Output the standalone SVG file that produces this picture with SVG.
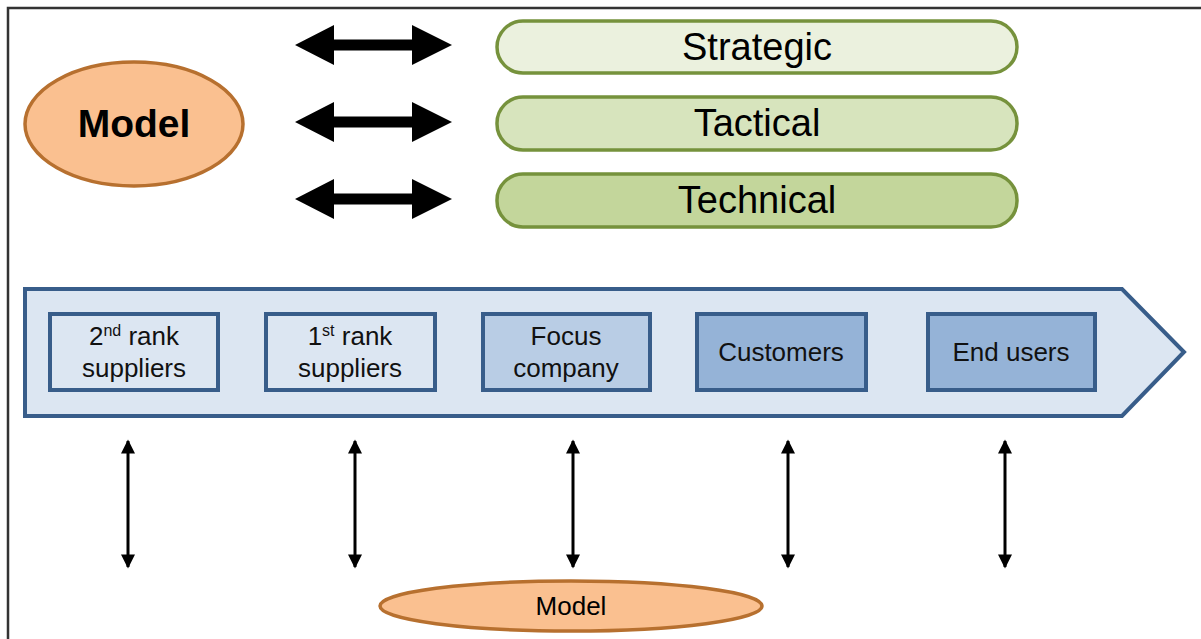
<svg xmlns="http://www.w3.org/2000/svg" width="1201" height="639" viewBox="0 0 1201 639">
<defs>
<style>
text{font-family:"Liberation Sans",Arial,sans-serif;fill:#000;text-anchor:middle}
.pill{stroke:#76923C;stroke-width:3.5}
.box{stroke:#385D8A;stroke-width:4}
.lvl{font-size:38px}
.bx{font-size:26px;fill:#111}
.sup{font-size:16px}
.model{fill:#FAC090;stroke:#B7702F;stroke-width:3.5}
.big{fill:#000}
.va{stroke:#000;stroke-width:3;fill:none;marker-start:url(#ah);marker-end:url(#ah)}
</style>
<marker id="ah" viewBox="0 0 10 10" refX="9" refY="5" markerWidth="17" markerHeight="14" markerUnits="userSpaceOnUse" orient="auto-start-reverse">
<path d="M0,0 L10,5 L0,10 Z" fill="#000"/>
</marker>
</defs>
<rect width="1201" height="639" fill="#fff"/>
<path d="M8,639 V8 H1201" fill="none" stroke="#333" stroke-width="2.5"/>

<g id="model-top">
<ellipse class="model" cx="134" cy="124" rx="109" ry="62"/>
<text x="134" y="137" style="font-size:39px;font-weight:bold">Model</text>
</g>

<g id="strategic">
<rect class="pill" x="497" y="21" width="520" height="52" rx="26" fill="#EBF1DE"/>
<text class="lvl" x="757" y="60">Strategic</text>
</g>
<g id="tactical">
<rect class="pill" x="497" y="97" width="520" height="53" rx="26" fill="#D7E4BD"/>
<text class="lvl" x="757" y="136">Tactical</text>
</g>
<g id="technical">
<rect class="pill" x="497" y="174" width="520" height="53" rx="26" fill="#C3D69B"/>
<text class="lvl" x="757" y="213">Technical</text>
</g>

<g id="chain">
<path d="M25,289 H1122 L1184,352 L1122,416 H25 Z" fill="#DCE6F2" stroke="#385D8A" stroke-width="4"/>
</g>
<g id="second-rank">
<rect class="box" x="50" y="314" width="168" height="76" fill="#DCE6F2"/>
<text class="bx" x="134" y="345">2<tspan class="sup" dy="-9">nd</tspan><tspan dy="9"> rank</tspan></text>
<text class="bx" x="134" y="377">suppliers</text>
</g>
<g id="first-rank">
<rect class="box" x="266" y="314" width="169" height="76" fill="#DCE6F2"/>
<text class="bx" x="350" y="345">1<tspan class="sup" dy="-9">st</tspan><tspan dy="9"> rank</tspan></text>
<text class="bx" x="350" y="377">suppliers</text>
</g>
<g id="focus">
<rect class="box" x="483" y="314" width="167" height="76" fill="#B9CDE5"/>
<text class="bx" x="566" y="345">Focus</text>
<text class="bx" x="566" y="377">company</text>
</g>
<g id="customers">
<rect class="box" x="697" y="314" width="169" height="76" fill="#95B3D7"/>
<text class="bx" x="781" y="361">Customers</text>
</g>
<g id="end-users">
<rect class="box" x="928" y="314" width="167" height="76" fill="#95B3D7"/>
<text class="bx" x="1011" y="361">End users</text>
</g>

<g id="model-bottom">
<ellipse class="model" cx="571" cy="606" rx="191" ry="25"/>
<text x="571" y="615" style="font-size:26px">Model</text>
</g>

<g id="connectors">
<path class="big" d="M295,45 L334,25 L334,39.5 L412,39.5 L412,25 L452,45 L412,65 L412,50.5 L334,50.5 L334,65 Z"/>
<path class="big" d="M295,122 L334,102 L334,116.5 L412,116.5 L412,102 L452,122 L412,142 L412,127.5 L334,127.5 L334,142 Z"/>
<path class="big" d="M295,199 L334,179 L334,193.5 L412,193.5 L412,179 L452,199 L412,219 L412,204.5 L334,204.5 L334,219 Z"/>
<line class="va" x1="128" y1="441" x2="128" y2="567"/>
<line class="va" x1="355" y1="441" x2="355" y2="567"/>
<line class="va" x1="573" y1="441" x2="573" y2="567"/>
<line class="va" x1="788" y1="441" x2="788" y2="567"/>
<line class="va" x1="1005" y1="441" x2="1005" y2="567"/>
</g>
</svg>
